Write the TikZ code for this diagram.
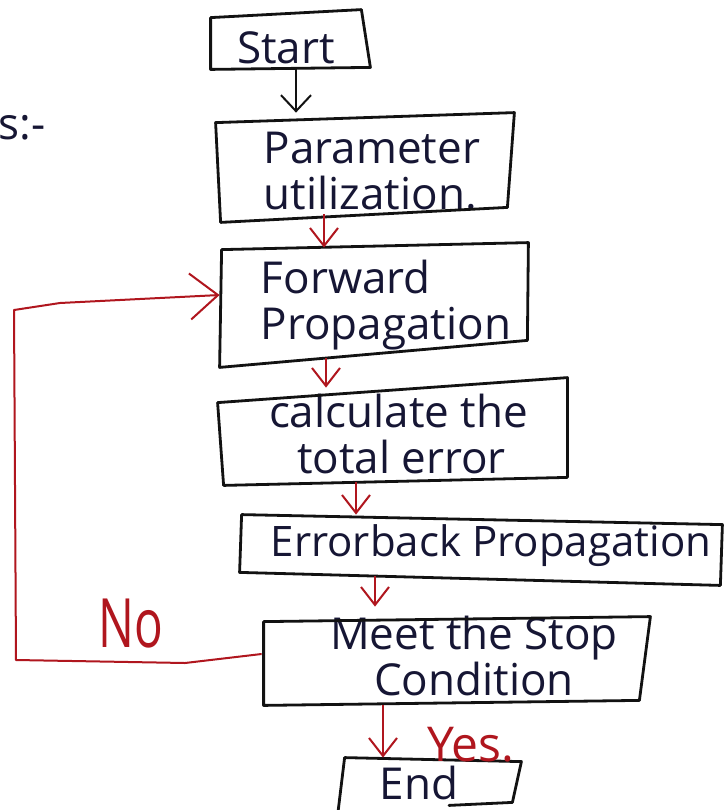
\documentclass[tikz,border=0pt]{standalone}
\usepackage{fontspec}
\setmainfont{Open Sans}
\usetikzlibrary{arrows.meta}

\definecolor{ink}{RGB}{22,22,52}
\definecolor{penred}{RGB}{176,22,30}
\definecolor{boxblack}{RGB}{18,18,18}

\tikzset{
  box/.style={draw=none, rectangle, inner sep=0pt},
  boxline/.style={draw=boxblack, line width=1.4pt, line join=round, line cap=round},
  txt/.style={text=ink, font=\fontsize{22}{23}\selectfont, inner sep=0pt},
  redtxt/.style={text=penred, inner sep=0pt},
  redarrow/.style={draw=penred, line width=1pt,
    -{Straight Barb[length=9pt,width=14pt,line width=1pt]}},
  blackarrow/.style={draw=boxblack, line width=1pt,
    -{Straight Barb[length=8pt,width=15pt,line width=1pt]}},
  loopline/.style={draw=penred, line width=1pt, line join=round,
    -{Straight Barb[length=14pt,width=23pt,line width=1pt]}}
}

% hand-drawn outline through the four corners of a box node, each nudged by (dx,dy)
\newcommand\handbox[5]{%
  \draw[boxline] ([shift={(#2)}]#1.north west) -- ([shift={(#3)}]#1.north east)
    -- ([shift={(#4)}]#1.south east) -- ([shift={(#5)}]#1.south west) -- cycle;}

\begin{document}
\begin{tikzpicture}[x=0.5pt, y=-0.5pt]
  \useasboundingbox (0,0) rectangle (725,810);
  \fill[white] (0,0) rectangle (725,810);

  % boxes
  \node[box, minimum width=79.5pt, minimum height=29.5pt,
        label={[txt, xshift=-2.25pt, yshift=-4.25pt]center:Start}] (start) at (290.5,39.5) {};
  \node[box, minimum width=149pt, minimum height=54.5pt,
        label={[txt, align=left, xshift=3.5pt, yshift=-1.75pt]center:{Parameter\\utilization.}}] (param) at (365,167.5) {};
  \node[box, minimum width=154pt, minimum height=62pt,
        label={[txt, align=left, xshift=6pt]center:{Forward\\Propagation}}] (fwd) at (374,305) {};
  \node[box, minimum width=174.5pt, minimum height=53.5pt,
        label={[txt, align=left, xshift=3pt, yshift=-1.25pt]center:{calculate the\\\hspace*{14pt}total error}}] (calc) at (392.5,431.5) {};
  \node[box, minimum width=242pt, minimum height=36pt,
        label={[txt, font=\fontsize{21}{22}\selectfont, xshift=4.5pt, yshift=1.5pt]center:{Errorback Propagation}}] (err) at (482,549) {};
  \node[box, minimum width=194pt, minimum height=44pt,
        label={[txt, align=center, xshift=9pt, yshift=2.5pt]center:{Meet the Stop\\Condition}}] (meet) at (456,661) {};
  \node[box, minimum width=90.5pt, minimum height=32pt,
        label={[txt, xshift=-5.75pt, yshift=3.5pt]center:End}] (end) at (430.5,790) {};

  \handbox{start}{0,8}{-9,0}{0,-2}{0,0}
  \handbox{param}{0,10}{0,0}{-7,-15}{5,0}
  \handbox{fwd}{2,7}{0,0}{-1,-27}{0,0}
  \handbox{calc}{0,25}{0,0}{0,-8}{6,0}
  \handbox{err}{2,2}{-2,12}{-4,0}{0,-13}
  \handbox{meet}{2,5}{0,0}{-11,-5}{2,0}
  \draw[boxline] ([shift={(-2,-7)}]end.south west) -- ([shift={(5,0)}]end.north west)
    -- ([shift={(0,4)}]end.north east) -- ([shift={(-9,-20)}]end.south east)
    -- ([shift={(18.5,-17)}]end.south);

  % columns of the down arrows
  \coordinate (colA) at (296,0);
  \coordinate (colB) at (324,0);
  \coordinate (colC) at (326,0);
  \coordinate (colD) at (356,0);
  \coordinate (colE) at (375,0);
  \coordinate (colF) at (383,0);

  \draw[blackarrow] (start.south -| colA) -- (param.north -| colA);
  \draw[redarrow, shorten <=-4pt, shorten >=-2.5pt] (param.south -| colB) -- (fwd.north -| colB);
  \draw[redarrow, shorten <=-4.5pt, shorten >=-5pt] (fwd.south -| colC) -- (calc.north -| colC);
  \draw[redarrow, shorten <=-1.5pt, shorten >=-1pt] (calc.south -| colD) -- (err.north -| colD);
  \draw[redarrow, shorten <=-4.5pt, shorten >=5pt] (err.south -| colE) -- (meet.north -| colE);
  \draw[redarrow] (meet.south -| colF) -- (end.north -| colF);

  % feedback loop back to forward propagation
  \coordinate (lmid) at (185,663);
  \coordinate (lb) at (16,660);
  \coordinate (lt) at (14,310);
  \coordinate (lt2) at (60,303);
  \draw[loopline] ([yshift=3.5pt]meet.west) -- (lmid) -- (lb) -- (lt) -- (lt2) -- ([yshift=5pt]fwd.west);

  % branch labels
  \node[redtxt, font=\fontsize{34}{34}\selectfont] (no) at (131,624) {\scalebox{0.7}[1]{No}};
  \node[redtxt, font=\fontsize{24}{24}\selectfont] (yes) at (471,745) {Yes.};

  % fragment at the left edge
  \node[txt, anchor=west] (frag) at (-2,128) {s:-};
\end{tikzpicture}
\end{document}
